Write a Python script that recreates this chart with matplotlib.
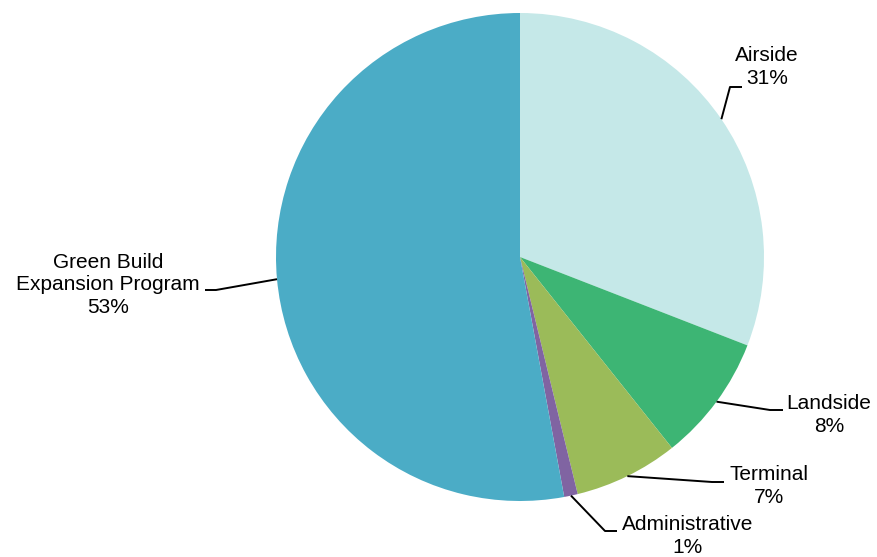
import numpy as np
import matplotlib
matplotlib.use("Agg")
import matplotlib.pyplot as plt

plt.rcParams['font.family'] = ['Liberation Sans', 'DejaVu Sans']

# データ (share of budget, %)
categories = ["Airside", "Landside", "Terminal", "Administrative", "Green Build\nExpansion Program"]
values = [30.9, 8.4, 6.9, 0.9, 52.9]
colors = ["#c5e8e8", "#3db574", "#9bbb59", "#8064a2", "#4bacc6"]

# label layout: knee of leader line, end of leader line, text centre (pixels, top-origin)
knees = [(730, 87), (770, 410), (712, 482), (605, 531), (216, 290)]
ends = [(742, 87), (783, 410), (724, 482), (617, 531), (205, 290)]
text_pos = [(767, 67), (829, 415), (769, 486), (688, 536), (108, 285)]

W, H = 877, 557
cx, cy, r = 520, H - 257, 244

fig = plt.figure(figsize=(W / 100, H / 100), dpi=100)
ax = fig.add_axes([0, 0, 1, 1])
wedges, _ = ax.pie(values, colors=colors, startangle=90, counterclock=False,
                   center=(cx, cy), radius=r, frame=True,
                   wedgeprops=dict(linewidth=0))
ax.set_xlim(0, W)
ax.set_ylim(0, H)
ax.set_aspect("equal")
ax.axis("off")

for w, name, v, k, e, t in zip(wedges, categories, values, knees, ends, text_pos):
    mid = np.deg2rad((w.theta1 + w.theta2) / 2)
    ax_x = cx + r * np.cos(mid)
    ax_y = cy + r * np.sin(mid)
    ax.plot([ax_x, k[0], e[0]], [ax_y, H - k[1], H - e[1]], color="black", lw=1.4,
            solid_capstyle="butt")
    ax.text(t[0], H - t[1], f"{name}\n{v:.0f}%", ha="center", va="center",
            multialignment="center", fontsize=15, linespacing=1.25)

fig.savefig("out.png", dpi=100)
